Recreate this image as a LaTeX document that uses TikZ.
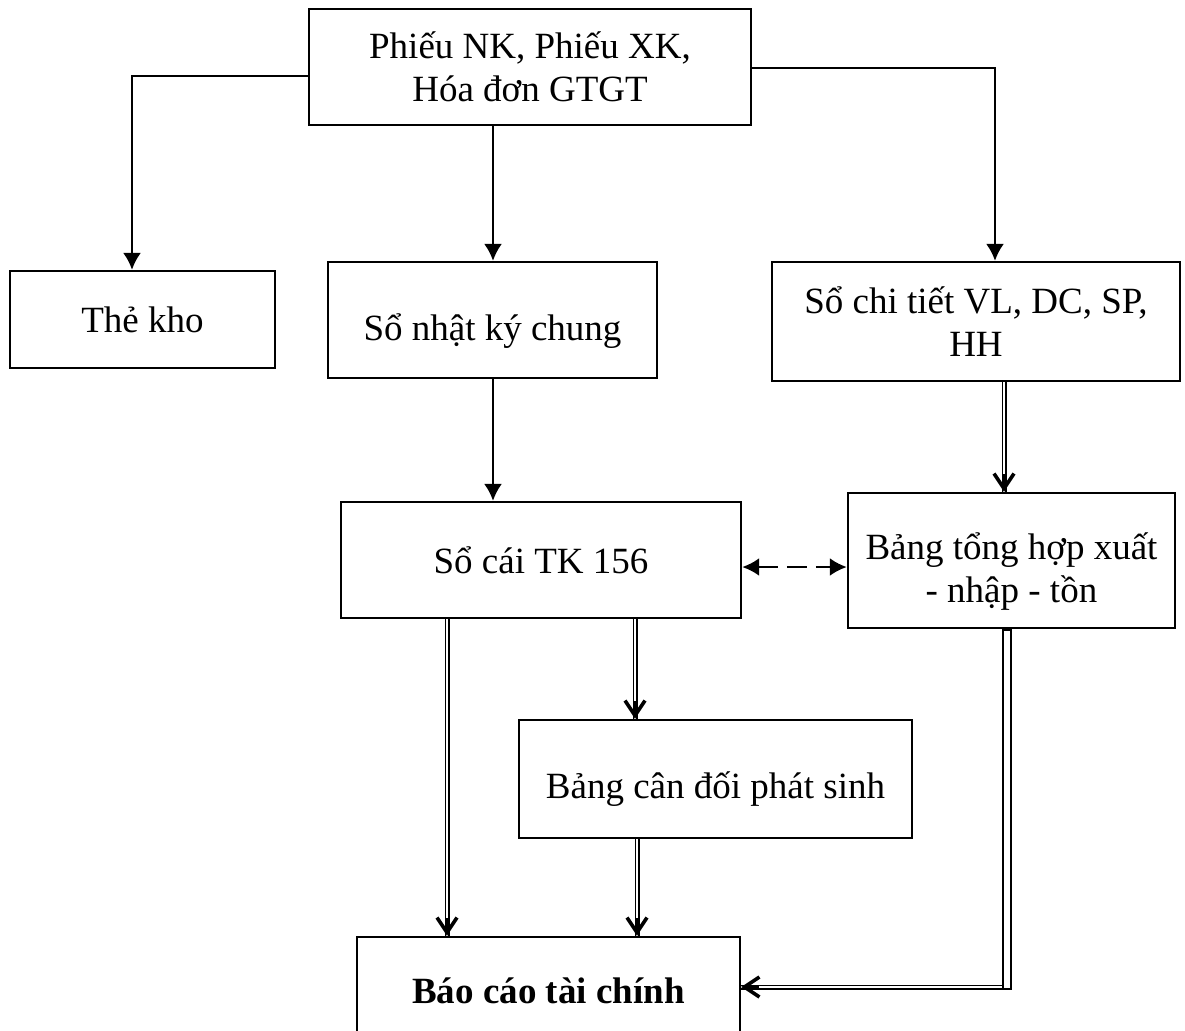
\documentclass[tikz,border=0pt]{standalone}
\usepackage{fontspec}
\setmainfont{Liberation Serif}
\usetikzlibrary{arrows.meta,calc}
\begin{document}
\begin{tikzpicture}[x=0.5pt,y=-0.5pt,
  box/.style={draw, line width=1.2pt, inner sep=0pt, align=center,
    font=\fontsize{18.5}{21.5}\selectfont},
  conn/.style={line width=1.1pt, -{Latex[length=8.5pt,width=9pt]}},
  dbl/.style={draw, double, double distance=1.3pt, line width=0.6pt},
  barb/.style={line width=1.8pt, -{Straight Barb[length=7.5pt,width=10pt,line width=1.8pt]}},
  dashconn/.style={line width=1.3pt, dash pattern=on 10pt off 4.5pt,
    {Latex[length=8.5pt,width=9pt]}-{Latex[length=8.5pt,width=9pt]}}]
\useasboundingbox (0,0) rectangle (1185,1030);
\clip (0,0) rectangle (1185,1030);

% boxes
\node[box, minimum width=221pt, minimum height=58pt] (src) at (530,67) {Phiếu NK, Phiếu XK,\\Hóa đơn GTGT};
\node[box, minimum width=132.5pt, minimum height=48.5pt] (tk) at (142.5,319.5) {Thẻ kho};
\node[box, minimum width=164.5pt, minimum height=58pt, text height=24pt, text depth=4pt] (nkc) at (492.5,320) {Sổ nhật ký chung};
\node[box, minimum width=204pt, minimum height=59.5pt] (sct) at (976,321.5) {Sổ chi tiết VL, DC, SP,\\HH};
\node[box, minimum width=200pt, minimum height=58pt] (sc) at (541,560) {Sổ cái TK 156};
\node[box, minimum width=163.5pt, minimum height=67.5pt, text height=45.5pt, text depth=4pt] (bth) at (1011.5,560.5)
  {Bảng tổng hợp xuất\\- nhập - tồn};
\node[box, minimum width=196.5pt, minimum height=59pt, text height=23pt, text depth=4pt] (bcd) at (715.5,779) {Bảng cân đối phát sinh};
\node[box, minimum width=191.5pt, minimum height=54pt,
  font=\fontsize{18.5}{21.5}\selectfont\bfseries] (bc) at (548.5,991) {Báo cáo tài chính};

% single arrows
\coordinate (l1) at (132,76);
\coordinate (r1) at (995,68);
\coordinate (m1) at (493,0);
\draw[conn] (src.west |- l1) -- (l1) -- (tk.north -| l1);
\draw[conn] (src.east |- r1) -- (r1) -- (sct.north -| r1);
\draw[conn] (src.south -| m1) -- (nkc.north -| m1);
\draw[conn] (nkc.south -| m1) -- (sc.north -| m1);

% dashed two-way
\coordinate (d1) at (0,567);
\draw[dashconn] (sc.east |- d1) -- (bth.west |- d1);

% double arrows
\coordinate (a1) at (1004,0);
\draw[dbl] (sct.south -| a1) -- (bth.north -| a1);
\draw[barb] ($(bth.north -| a1)+(0,-18)$) -- (bth.north -| a1);

\coordinate (a2) at (447,0);
\draw[dbl] (sc.south -| a2) -- (bc.north -| a2);
\draw[barb] ($(bc.north -| a2)+(0,-18)$) -- (bc.north -| a2);

\coordinate (a3) at (635,0);
\draw[dbl] (sc.south -| a3) -- (bcd.north -| a3);
\draw[barb] ($(bcd.north -| a3)+(0,-18)$) -- (bcd.north -| a3);

\coordinate (a4) at (637,0);
\draw[dbl] (bcd.south -| a4) -- (bc.north -| a4);
\draw[barb] ($(bc.north -| a4)+(0,-18)$) -- (bc.north -| a4);

\coordinate (b1) at (1007,987);
\draw[dbl] (b1) -- (bc.east |- b1);
\draw[barb] ($(bc.east |- b1)+(18,0)$) -- (bc.east |- b1);
\draw[line width=5.2pt] (bth.south -| b1) -- ($(b1)+(0,3)$);
\draw[white, line width=3.4pt, shorten <=0.9pt, shorten >=0.9pt] (bth.south -| b1) -- ($(b1)+(0,3)$);
\end{tikzpicture}
\end{document}
